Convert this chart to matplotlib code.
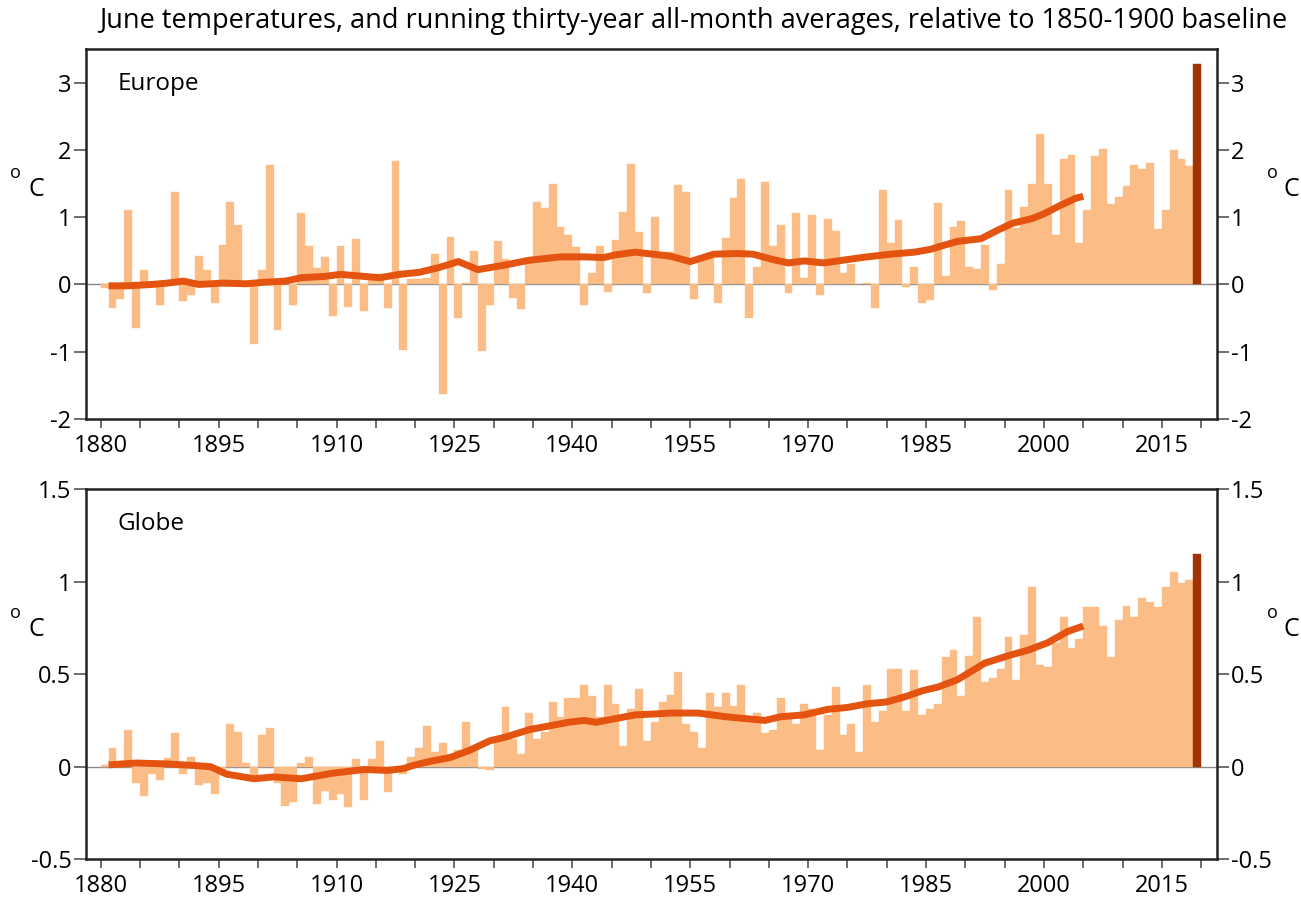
import numpy as np
import matplotlib
matplotlib.use("Agg")
import matplotlib.pyplot as plt

plt.rcParams['font.family'] = ['Open Sans', 'DejaVu Sans']

years = np.arange(1880, 2020)

europe = [
    -0.05, -0.35, -0.21, 1.10, -0.65, 0.22, 0.03, -0.31, 0.01, 1.37,
    -0.24, -0.15, 0.43, 0.22, -0.27, 0.59, 1.23, 0.88, 0.02, -0.89,
    0.22, 1.78, -0.67, 0.03, -0.30, 1.06, 0.57, 0.24, 0.41, -0.47,
    0.57, -0.34, 0.67, -0.39, 0.12, 0.15, -0.35, 1.83, -0.97, 0.08,
    0.08, 0.10, 0.46, -1.63, 0.70, -0.50, 0.02, 0.50, -0.99, -0.30,
    0.65, 0.38, -0.20, -0.37, 0.37, 1.22, 1.14, 1.50, 0.86, 0.74,
    0.56, -0.30, 0.17, 0.57, -0.11, 0.66, 1.07, 1.79, 0.78, -0.12,
    1.00, 0.48, 0.48, 1.48, 1.38, -0.21, 0.40, 0.40, -0.28, 0.69,
    1.28, 1.57, -0.50, 0.26, 1.52, 0.57, 0.89, -0.13, 1.06, 0.09,
    1.03, -0.16, 0.97, 0.79, 0.17, 0.31, 0.00, 0.02, -0.35, 1.40,
    0.62, 0.96, -0.04, 0.26, -0.28, -0.23, 1.21, 0.13, 0.86, 0.94,
    0.26, 0.23, 0.59, -0.08, 0.31, 1.40, 0.84, 1.15, 1.50, 2.24,
    1.50, 0.74, 1.87, 1.92, 0.62, 1.11, 1.91, 2.02, 1.19, 1.30,
    1.46, 1.77, 1.72, 1.80, 0.83, 1.10, 2.00, 1.86, 1.76, 3.27,
]

globe = [
    0.01, 0.10, 0.01, 0.20, -0.09, -0.16, -0.04, -0.07, 0.045, 0.18,
    -0.04, 0.05, -0.10, -0.09, -0.15, -0.03, 0.23, 0.19, 0.02, -0.05,
    0.17, 0.21, -0.09, -0.21, -0.19, 0.02, 0.05, -0.20, -0.13, -0.18,
    -0.15, -0.22, 0.04, -0.18, 0.04, 0.14, -0.135, 0.00, -0.04, 0.05,
    0.10, 0.22, 0.08, 0.13, 0.07, 0.09, 0.24, 0.11, -0.01, -0.02,
    0.16, 0.32, 0.15, 0.07, 0.29, 0.15, 0.19, 0.35, 0.27, 0.37,
    0.37, 0.44, 0.38, 0.27, 0.44, 0.34, 0.11, 0.31, 0.42, 0.14,
    0.24, 0.35, 0.39, 0.51, 0.23, 0.19, 0.10, 0.40, 0.32, 0.40,
    0.33, 0.44, 0.25, 0.29, 0.18, 0.20, 0.37, 0.28, 0.23, 0.34,
    0.31, 0.09, 0.28, 0.43, 0.17, 0.23, 0.08, 0.44, 0.24, 0.30,
    0.53, 0.53, 0.30, 0.52, 0.28, 0.31, 0.34, 0.59, 0.63, 0.38,
    0.60, 0.81, 0.46, 0.48, 0.53, 0.70, 0.47, 0.71, 0.97, 0.55,
    0.54, 0.67, 0.81, 0.64, 0.69, 0.86, 0.86, 0.76, 0.59, 0.79,
    0.87, 0.81, 0.91, 0.89, 0.86, 0.97, 1.05, 0.99, 1.01, 1.15,
]

# thirty-year running averages
europe_avg_years = [1880.5, 1883, 1886, 1888, 1890, 1892, 1895, 1898, 1900, 1903,
                    1905, 1908, 1910, 1913, 1915, 1917.5, 1920, 1922.5, 1925, 1927.5,
                    1931, 1934, 1938, 1941, 1943.5, 1945, 1947.5, 1950.5, 1952, 1954.5,
                    1957.5, 1960.5, 1962.5, 1965, 1967, 1969, 1971.5, 1974.5, 1977, 1980,
                    1983, 1985, 1987, 1988.5, 1991.5, 1993.5, 1995.5, 1998, 1999.5, 2001.5,
                    2003.5, 2004.5]
europe_avg = [-0.02, -0.02, 0.00, 0.02, 0.05, 0.00, 0.02, 0.01, 0.03, 0.05,
              0.10, 0.12, 0.15, 0.12, 0.10, 0.15, 0.18, 0.25, 0.34, 0.22,
              0.29, 0.36, 0.41, 0.41, 0.40, 0.44, 0.48, 0.44, 0.42, 0.34,
              0.45, 0.46, 0.45, 0.37, 0.32, 0.35, 0.32, 0.37, 0.41, 0.45,
              0.48, 0.52, 0.59, 0.64, 0.68, 0.80, 0.91, 0.98, 1.05, 1.17,
              1.28, 1.31]

globe_avg_years = [1880.5, 1884, 1888, 1892, 1893.5, 1895.5, 1899, 1901.5, 1905, 1909,
                   1913, 1916, 1918, 1919.5, 1921.5, 1924, 1926.5, 1929, 1931, 1934,
                   1936.5, 1939, 1941, 1942.5, 1945, 1947.5, 1950, 1952, 1955.5, 1959,
                   1961.5, 1964, 1966, 1969, 1972, 1974.5, 1977, 1979.5, 1982, 1984,
                   1986, 1988.5, 1992, 1995, 1997.5, 2000, 2002.5, 2004.5]
globe_avg = [0.01, 0.02, 0.015, 0.005, 0.0, -0.04, -0.065, -0.055, -0.065, -0.035,
             -0.015, -0.02, -0.01, 0.01, 0.03, 0.05, 0.09, 0.14, 0.16, 0.20,
             0.22, 0.24, 0.25, 0.24, 0.26, 0.28, 0.285, 0.29, 0.29, 0.27,
             0.26, 0.25, 0.27, 0.28, 0.31, 0.32, 0.34, 0.35, 0.38, 0.41,
             0.43, 0.47, 0.56, 0.60, 0.63, 0.67, 0.73, 0.76]

bar_color = '#FBBD85'
last_color = '#A33300'
line_color = '#E4530F'

W, H = 1301, 899
fig = plt.figure(figsize=(W / 100, H / 100), dpi=100)

panels = [
    dict(rect=[86 / W, 1 - 419 / H, 1130.7 / W, 370 / H], vals=europe,
         ax_years=europe_avg_years, avg=europe_avg, ylim=(-2, 3.5),
         yticks=[-2, -1, 0, 1, 2, 3], ylabels=['-2', '-1', '0', '1', '2', '3'],
         name='Europe', unit_y=190),
    dict(rect=[86 / W, 1 - 859.3 / H, 1130.7 / W, 370.3 / H], vals=globe,
         ax_years=globe_avg_years, avg=globe_avg, ylim=(-0.5, 1.5),
         yticks=[-0.5, 0, 0.5, 1, 1.5], ylabels=['-0.5', '0', '0.5', '1', '1.5'],
         name='Globe', unit_y=630),
]

for p in panels:
    ax = fig.add_axes(p['rect'])
    colors = [bar_color] * (len(years) - 1) + [last_color]
    ax.bar(years, p['vals'], width=1.0, align='edge', color=colors,
           edgecolor=colors, linewidth=0.3, zorder=2)
    ax.axhline(0, color='#8a8a8a', linewidth=1.0, zorder=1)
    ax.plot(np.array(p['ax_years']) + 0.5, p['avg'], color=line_color,
            linewidth=5, solid_capstyle='butt', solid_joinstyle='round', zorder=3)

    ax.set_xlim(1878.13, 2021.98)
    ax.set_ylim(*p['ylim'])
    ax.set_xticks(np.arange(1880, 2021, 5))
    ax.set_xticklabels([str(y) if (y - 1880) % 15 == 0 else '' for y in range(1880, 2021, 5)])
    ax.set_yticks(p['yticks'])
    ax.set_yticklabels(p['ylabels'])
    ax.tick_params(axis='y', which='both', direction='out', length=8.5, width=1.2,
                   labelsize=17, pad=2, left=True, right=True,
                   labelleft=True, labelright=True, color='#555555')
    ax.tick_params(axis='x', direction='out', length=6.5, width=1.2,
                   labelsize=17, pad=4, color='#555555')
    for s in ax.spines.values():
        s.set_linewidth(1.8)
        s.set_color('#222222')

    ax.text(0.028, 0.905, p['name'], transform=ax.transAxes, fontsize=17.5,
            ha='left', va='center')

    # degree C labels on both sides
    for xo, xc in [(15, 36), (1272, 1291)]:
        fig.text(xo / W, 1 - (p['unit_y'] - 17) / H, 'o', fontsize=13,
                 ha='center', va='center')
        fig.text(xc / W, 1 - p['unit_y'] / H, 'C', fontsize=18,
                 ha='center', va='center')

fig.text(693 / W, 1 - 21 / H,
         'June temperatures, and running thirty-year all-month averages, '
         'relative to 1850-1900 baseline',
         fontsize=19.5, ha='center', va='center')

fig.savefig('out.png', dpi=100)
